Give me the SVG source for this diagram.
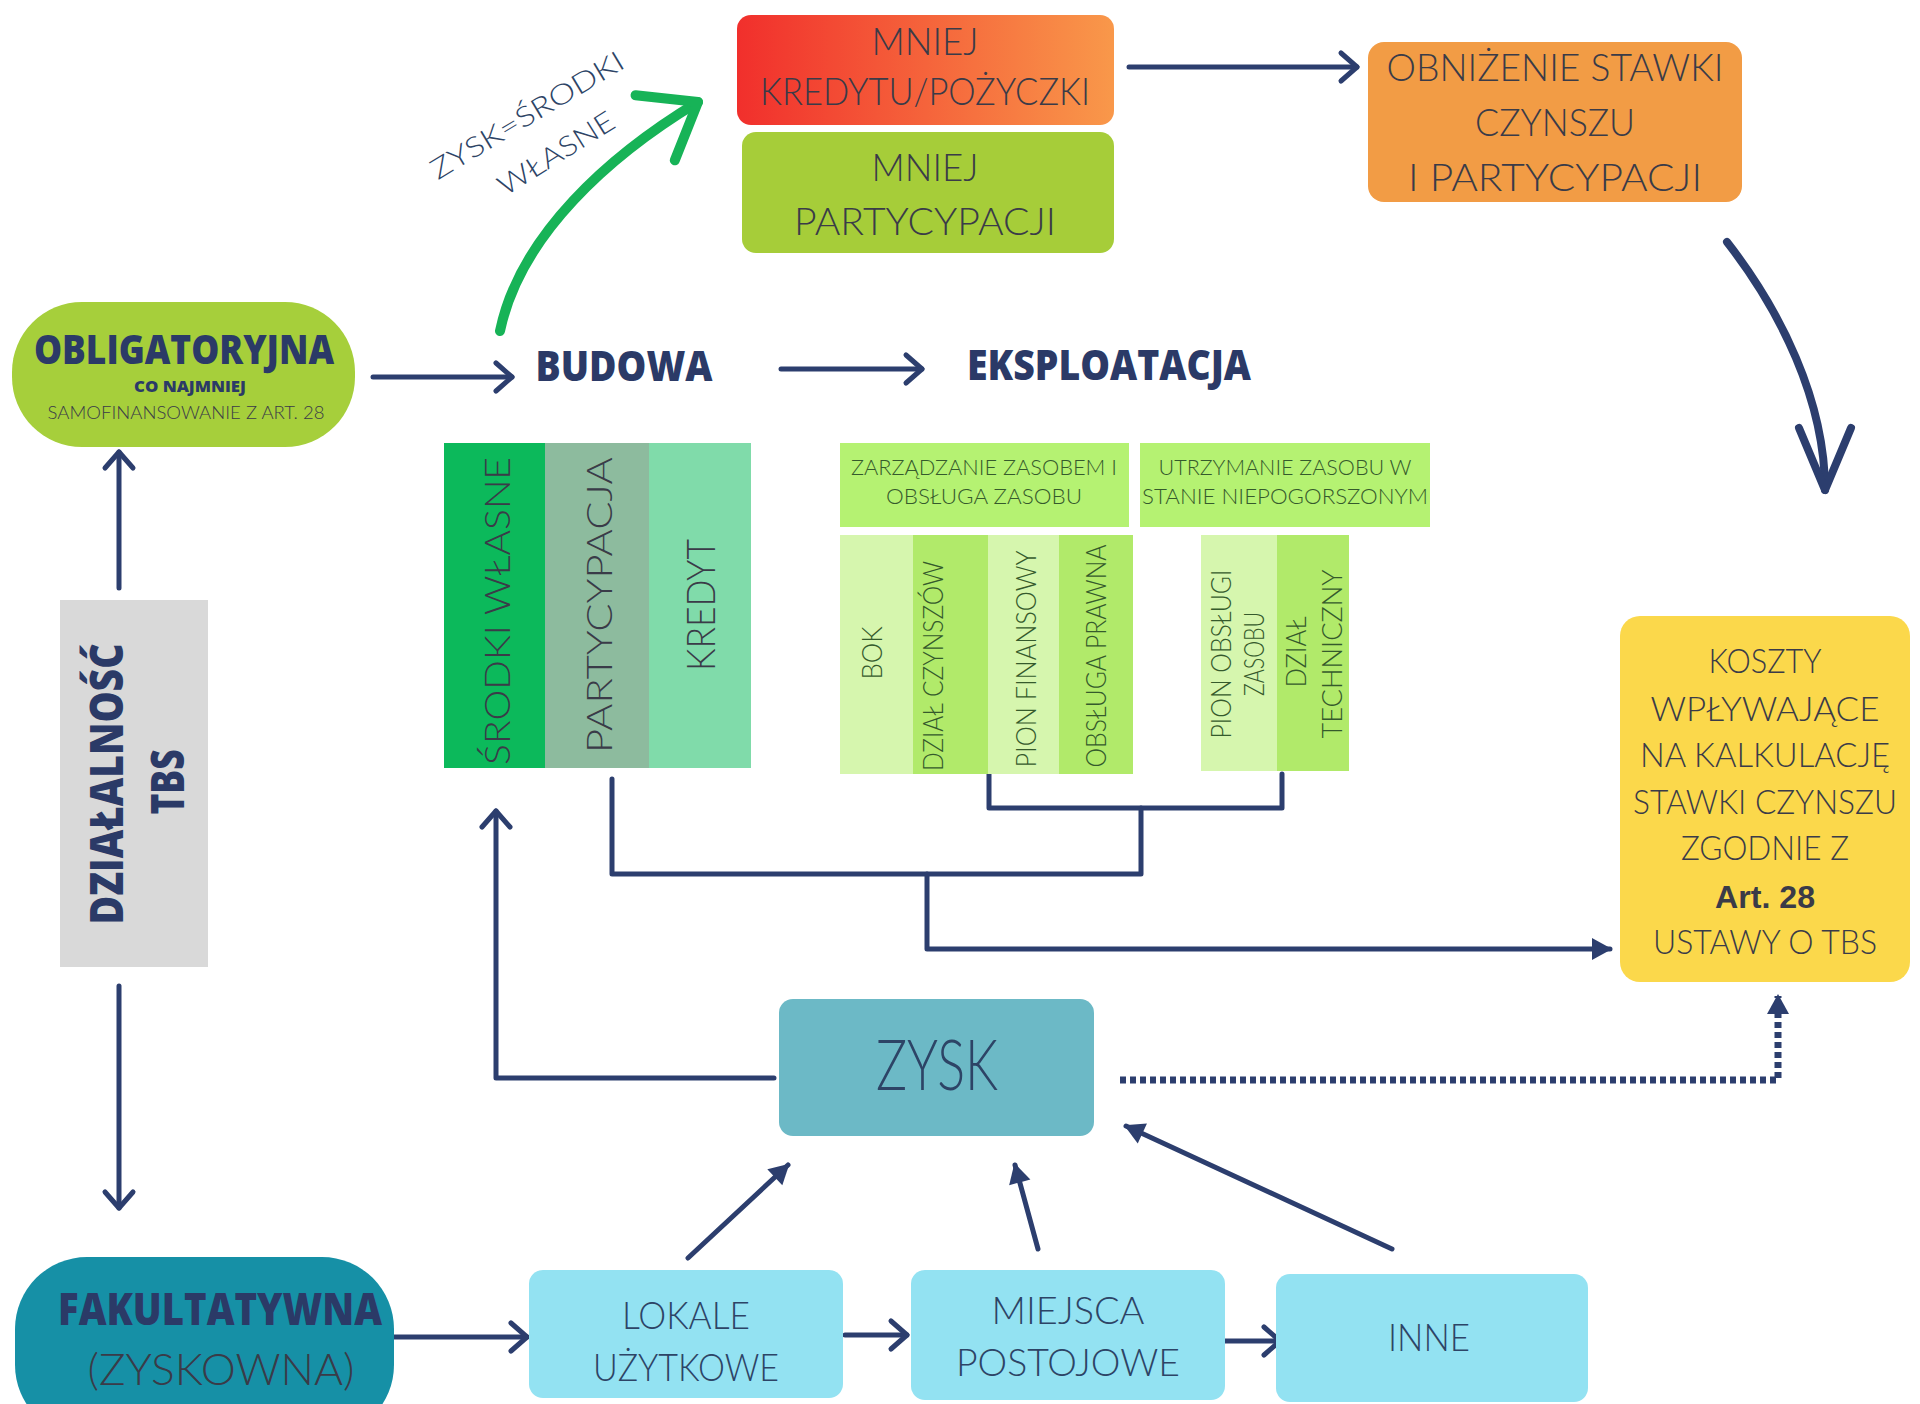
<svg xmlns="http://www.w3.org/2000/svg" width="1920" height="1404" viewBox="0 0 1920 1404">
<style>
.t{font-family:Lato,"Liberation Sans",sans-serif;font-weight:300;fill:#3a3b48}
.h{font-family:"Open Sans","Liberation Sans",sans-serif;font-weight:800;fill:#2b3a67}
.nv{fill:#2d4466}
.gr{fill:#355a2c}
.ln{fill:none;stroke:#2c3e6e;stroke-width:5;stroke-linecap:round;stroke-linejoin:round}
</style>
<defs>
<linearGradient id="rg" x1="0" y1="0" x2="1" y2="0">
<stop offset="0" stop-color="#f12f2c"/><stop offset="1" stop-color="#f9984a"/>
</linearGradient>
<marker id="chev" markerUnits="userSpaceOnUse" viewBox="-22 -18 26 36" refX="0" refY="0" markerWidth="26" markerHeight="36" orient="auto" overflow="visible">
<path d="M-16,-14 L0,0 L-16,14" fill="none" stroke="#2c3e6e" stroke-width="5" stroke-linecap="round" stroke-linejoin="round"/>
</marker>
<marker id="tri" markerUnits="userSpaceOnUse" viewBox="-20 -12 22 24" refX="0" refY="0" markerWidth="22" markerHeight="24" orient="auto" overflow="visible">
<path d="M-18,-11 L2,0 L-18,11 Z" fill="#2c3e6e"/>
</marker>
<marker id="green" markerUnits="userSpaceOnUse" viewBox="-60 -45 70 90" refX="0" refY="0" markerWidth="70" markerHeight="90" orient="auto" overflow="visible">
<path d="M-50,-38 L0,0 L-50,38" fill="none" stroke="#17b357" stroke-width="10" stroke-linecap="round" stroke-linejoin="round"/>
</marker>
<marker id="big" markerUnits="userSpaceOnUse" viewBox="-70 -35 80 70" refX="0" refY="0" markerWidth="80" markerHeight="70" orient="auto" overflow="visible">
<path d="M-62,-26 L0,0 L-62,26" fill="none" stroke="#2c3e6e" stroke-width="8" stroke-linecap="round" stroke-linejoin="round"/>
</marker>
</defs>

<g id="connectors">
<path class="ln" d="M373,377 L512,377" marker-end="url(#chev)"/>
<path class="ln" d="M781,369 L922,369" marker-end="url(#chev)"/>
<path class="ln" d="M1129,67 L1357,67" stroke-width="6" marker-end="url(#chev)"/>
<path d="M500,331 C520,235 610,155 698,102" fill="none" stroke="#17b357" stroke-width="10" stroke-linecap="round" marker-end="url(#green)"/>
<path d="M1727,242 C1780,310 1825,400 1825,490" fill="none" stroke="#2c3e6e" stroke-width="8" stroke-linecap="round" marker-end="url(#big)"/>
<path class="ln" d="M119,588 L119,452" marker-end="url(#chev)"/>
<path class="ln" d="M119,986 L119,1208" marker-end="url(#chev)"/>
<path class="ln" d="M774,1078 L496,1078 L496,811" marker-end="url(#chev)"/>
<path class="ln" d="M612,779 L612,874 L1141,874 L1141,808"/>
<path class="ln" d="M989,774 L989,808 L1282,808 L1282,774"/>
<path class="ln" d="M927,874 L927,949 L1610,949" marker-end="url(#tri)"/>
<path d="M1120,1080 L1778,1080 L1778,996" fill="none" stroke="#2c3e6e" stroke-width="7" stroke-dasharray="6 4" marker-end="url(#tri)"/>
<path class="ln" d="M688,1258 L788,1165" stroke-width="4" marker-end="url(#tri)"/>
<path class="ln" d="M1038,1249 L1015,1165" stroke-width="4" marker-end="url(#tri)"/>
<path class="ln" d="M1392,1249 L1126,1126" stroke-width="4" marker-end="url(#tri)"/>
<path class="ln" d="M394,1337 L527,1337" stroke-width="8" marker-end="url(#chev)"/>
<path class="ln" d="M845,1335 L907,1335" stroke-width="8" marker-end="url(#chev)"/>
<path class="ln" d="M1225,1341 L1280,1341" stroke-width="8" marker-end="url(#chev)"/>
<text class="t nv" font-size="28" text-anchor="middle" transform="translate(527,115) rotate(-31)" y="10" textLength="220" lengthAdjust="spacingAndGlyphs">ZYSK=ŚRODKI</text>
<text class="t nv" font-size="28" text-anchor="middle" transform="translate(556,153) rotate(-32)" y="10" textLength="132" lengthAdjust="spacingAndGlyphs">WŁASNE</text>
</g>

<g id="obligatoryjna">
<rect x="12" y="302" width="343" height="145" rx="70" fill="#a6cf3b"/>
<text class="h" font-size="40" x="184" y="364" text-anchor="middle" textLength="300" lengthAdjust="spacingAndGlyphs">OBLIGATORYJNA</text>
<text class="h" font-size="15" x="190" y="392" text-anchor="middle" textLength="112" lengthAdjust="spacingAndGlyphs">CO NAJMNIEJ</text>
<text class="t" font-size="17" x="186" y="419" text-anchor="middle" textLength="277" lengthAdjust="spacingAndGlyphs" fill="#3b4a3a">SAMOFINANSOWANIE Z ART. 28</text>
</g>

<g id="budowa"><text class="h" font-size="42" x="624" y="381" text-anchor="middle" textLength="177" lengthAdjust="spacingAndGlyphs">BUDOWA</text></g>
<g id="eksploatacja"><text class="h" font-size="42" x="1109" y="380" text-anchor="middle" textLength="284" lengthAdjust="spacingAndGlyphs">EKSPLOATACJA</text></g>

<g id="mniej-kredytu">
<rect x="737" y="15" width="377" height="110" rx="14" fill="url(#rg)"/>
<text class="t" font-size="38" x="925" y="55" text-anchor="middle" textLength="107" lengthAdjust="spacingAndGlyphs">MNIEJ</text>
<text class="t" font-size="38" x="925" y="105" text-anchor="middle" textLength="330" lengthAdjust="spacingAndGlyphs">KREDYTU/POŻYCZKI</text>
</g>
<g id="mniej-partycypacji">
<rect x="742" y="132" width="372" height="121" rx="14" fill="#a6cd39"/>
<text class="t" font-size="38" x="925" y="181" text-anchor="middle" textLength="107" lengthAdjust="spacingAndGlyphs">MNIEJ</text>
<text class="t" font-size="38" x="925" y="235" text-anchor="middle" textLength="262" lengthAdjust="spacingAndGlyphs">PARTYCYPACJI</text>
</g>
<g id="obnizenie">
<rect x="1368" y="42" width="374" height="160" rx="16" fill="#f29c45"/>
<text class="t" font-size="38" x="1555" y="81" text-anchor="middle" textLength="337" lengthAdjust="spacingAndGlyphs">OBNIŻENIE STAWKI</text>
<text class="t" font-size="38" x="1555" y="136" text-anchor="middle" textLength="160" lengthAdjust="spacingAndGlyphs">CZYNSZU</text>
<text class="t" font-size="38" x="1555" y="191" text-anchor="middle" textLength="294" lengthAdjust="spacingAndGlyphs">I PARTYCYPACJI</text>
</g>

<g id="koszty">
<rect x="1620" y="616" width="290" height="366" rx="20" fill="#fbd84b"/>
<g class="t" font-size="33" text-anchor="middle" fill="#3b3b3b">
<text x="1765" y="673" textLength="113" lengthAdjust="spacingAndGlyphs">KOSZTY</text>
<text x="1765" y="721" textLength="229" lengthAdjust="spacingAndGlyphs">WPŁYWAJĄCE</text>
<text x="1765" y="767" textLength="250" lengthAdjust="spacingAndGlyphs">NA KALKULACJĘ</text>
<text x="1765" y="814" textLength="264" lengthAdjust="spacingAndGlyphs">STAWKI CZYNSZU</text>
<text x="1765" y="860" textLength="168" lengthAdjust="spacingAndGlyphs">ZGODNIE Z</text>
<text x="1765" y="908" font-family="'Liberation Sans',Arial,sans-serif" font-weight="bold" font-size="32" textLength="100" lengthAdjust="spacingAndGlyphs">Art. 28</text>
<text x="1765" y="954" textLength="224" lengthAdjust="spacingAndGlyphs">USTAWY O TBS</text>
</g>
</g>

<g id="dzialalnosc">
<rect x="60" y="600" width="148" height="367" fill="#d9d9d9"/>
<text class="h" font-size="46" text-anchor="middle" transform="translate(123,784) rotate(-90)" textLength="281" lengthAdjust="spacingAndGlyphs">DZIAŁALNOŚĆ</text>
<text class="h" font-size="46" text-anchor="middle" transform="translate(184,782) rotate(-90)" textLength="65" lengthAdjust="spacingAndGlyphs">TBS</text>
</g>

<g id="finansowanie">
<rect x="444" y="443" width="101" height="325" fill="#0cb95b"/>
<rect x="545" y="443" width="104" height="325" fill="#8dbb9e"/>
<rect x="649" y="443" width="102" height="325" fill="#80dbaa"/>
<text class="t" font-size="36" text-anchor="middle" fill="#1f4f52" transform="translate(510,611) rotate(-90)" textLength="308" lengthAdjust="spacingAndGlyphs">ŚRODKI WŁASNE</text>
<text class="t" font-size="36" text-anchor="middle" fill="#2b4a6b" transform="translate(612,605) rotate(-90)" textLength="296" lengthAdjust="spacingAndGlyphs">PARTYCYPACJA</text>
<text class="t" font-size="40" text-anchor="middle" fill="#2b5068" transform="translate(715,605) rotate(-90)" textLength="132" lengthAdjust="spacingAndGlyphs">KREDYT</text>
</g>

<g id="zarzadzanie">
<rect x="840" y="443" width="289" height="84" fill="#b5f272"/>
<text class="t gr" font-size="21" x="984" y="475" text-anchor="middle" textLength="266" lengthAdjust="spacingAndGlyphs">ZARZĄDZANIE ZASOBEM I</text>
<text class="t gr" font-size="21" x="984" y="504" text-anchor="middle" textLength="196" lengthAdjust="spacingAndGlyphs">OBSŁUGA ZASOBU</text>
<rect x="840" y="535" width="73" height="239" fill="#d6f6ae"/>
<rect x="913" y="535" width="75" height="239" fill="#b1ea6a"/>
<rect x="988" y="535" width="71" height="239" fill="#d6f6ae"/>
<rect x="1059" y="535" width="74" height="239" fill="#b1ea6a"/>
<g class="t gr" font-size="28" text-anchor="middle">
<text transform="translate(882,653) rotate(-90)" textLength="53" lengthAdjust="spacingAndGlyphs">BOK</text>
<text transform="translate(943,666) rotate(-90)" textLength="210" lengthAdjust="spacingAndGlyphs">DZIAŁ CZYNSZÓW</text>
<text transform="translate(1036,659) rotate(-90)" textLength="217" lengthAdjust="spacingAndGlyphs">PION FINANSOWY</text>
<text transform="translate(1106,656) rotate(-90)" textLength="223" lengthAdjust="spacingAndGlyphs">OBSŁUGA PRAWNA</text>
</g>
</g>

<g id="utrzymanie">
<rect x="1140" y="443" width="290" height="84" fill="#b5f272"/>
<text class="t gr" font-size="21" x="1285" y="475" text-anchor="middle" textLength="253" lengthAdjust="spacingAndGlyphs">UTRZYMANIE ZASOBU W</text>
<text class="t gr" font-size="21" x="1285" y="504" text-anchor="middle" textLength="286" lengthAdjust="spacingAndGlyphs">STANIE NIEPOGORSZONYM</text>
<rect x="1201" y="535" width="76" height="236" fill="#d6f6ae"/>
<rect x="1277" y="535" width="72" height="236" fill="#b1ea6a"/>
<g class="t gr" font-size="28" text-anchor="middle">
<text transform="translate(1231,654) rotate(-90)" textLength="169" lengthAdjust="spacingAndGlyphs">PION OBSŁUGI</text>
<text transform="translate(1264,654) rotate(-90)" textLength="84" lengthAdjust="spacingAndGlyphs">ZASOBU</text>
<text transform="translate(1306,652) rotate(-90)" textLength="71" lengthAdjust="spacingAndGlyphs">DZIAŁ</text>
<text transform="translate(1342,654) rotate(-90)" textLength="169" lengthAdjust="spacingAndGlyphs">TECHNICZNY</text>
</g>
</g>

<g id="zysk">
<rect x="779" y="999" width="315" height="137" rx="14" fill="#6cb9c6"/>
<text class="t nv" font-size="70" x="937" y="1090" text-anchor="middle" textLength="122" lengthAdjust="spacingAndGlyphs">ZYSK</text>
</g>

<g id="fakultatywna">
<rect x="15" y="1257" width="379" height="180" rx="72" fill="#1690a6"/>
<text class="h" font-size="44" x="220" y="1325" text-anchor="middle" fill="#1e3c62" textLength="324" lengthAdjust="spacingAndGlyphs">FAKULTATYWNA</text>
<text class="t" font-size="44" x="221" y="1385" text-anchor="middle" fill="#1e3c62" textLength="267" lengthAdjust="spacingAndGlyphs">(ZYSKOWNA)</text>
</g>

<g id="lokale">
<rect x="529" y="1270" width="314" height="128" rx="14" fill="#93e2f2"/>
<text class="t nv" font-size="38" x="686" y="1329" text-anchor="middle" textLength="128" lengthAdjust="spacingAndGlyphs">LOKALE</text>
<text class="t nv" font-size="38" x="686" y="1381" text-anchor="middle" textLength="186" lengthAdjust="spacingAndGlyphs">UŻYTKOWE</text>
</g>
<g id="miejsca">
<rect x="911" y="1270" width="314" height="130" rx="14" fill="#93e2f2"/>
<text class="t nv" font-size="38" x="1068" y="1324" text-anchor="middle" textLength="153" lengthAdjust="spacingAndGlyphs">MIEJSCA</text>
<text class="t nv" font-size="38" x="1068" y="1376" text-anchor="middle" textLength="224" lengthAdjust="spacingAndGlyphs">POSTOJOWE</text>
</g>
<g id="inne">
<rect x="1276" y="1274" width="312" height="128" rx="14" fill="#93e2f2"/>
<text class="t nv" font-size="38" x="1429" y="1351" text-anchor="middle" textLength="82" lengthAdjust="spacingAndGlyphs">INNE</text>
</g>
</svg>
